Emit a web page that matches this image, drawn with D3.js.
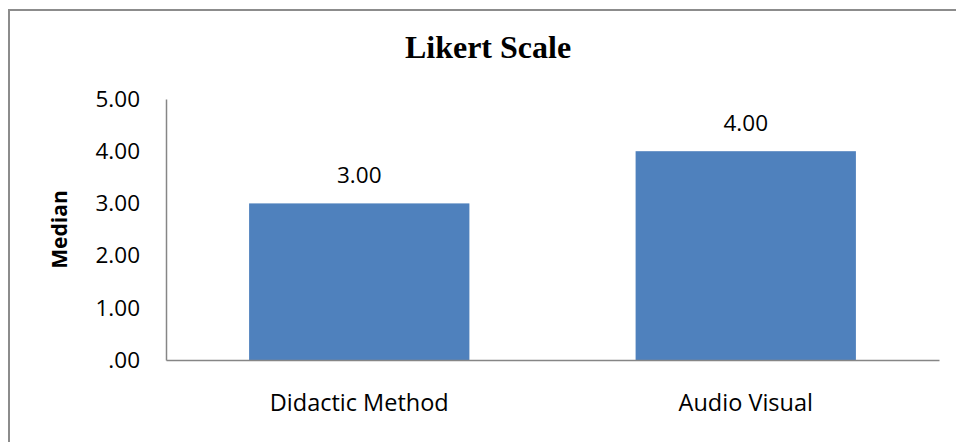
<!DOCTYPE html>
<html>
<head>
<meta charset="utf-8">
<script src="https://cdn.jsdelivr.net/npm/d3@7"></script>
<style>
  html, body { margin: 0; padding: 0; background: #fff; }
  svg { display: block; }
</style>
</head>
<body>
<script>
const categories = ["Didactic Method", "Audio Visual"];
const medians = [3.00, 4.00];
const yTicks = [0, 1, 2, 3, 4, 5];
const tickLabels = [".00", "1.00", "2.00", "3.00", "4.00", "5.00"];
const chartTitle = "Likert Scale";
const yTitle = "Median";

const W = 956, H = 442;
const plot = { left: 166, right: 939, top: 99, bottom: 360 };
const sans = "'Open Sans', 'Noto Sans', sans-serif";

const svg = d3.select("body").append("svg").attr("width", W).attr("height", H);

// outer chart border (only top & left visible in reference)
svg.append("rect")
  .attr("x", 9).attr("y", 10).attr("width", W + 20).attr("height", H + 20)
  .attr("fill", "none").attr("stroke", "#8c8c8c").attr("stroke-width", 2);

const x = d3.scaleBand().domain(categories)
  .range([plot.left, plot.right]).paddingInner(0.43).paddingOuter(0.215);
const y = d3.scaleLinear().domain([0, 5]).range([plot.bottom, plot.top]);

// bars
svg.append("g").selectAll("rect").data(categories).join("rect")
  .attr("x", d => x(d))
  .attr("y", (d, i) => y(medians[i]))
  .attr("width", x.bandwidth())
  .attr("height", (d, i) => y(0) - y(medians[i]))
  .attr("fill", "#4F81BD");

// y axis
const yAxis = d3.axisLeft(y).tickValues(yTicks)
  .tickFormat((d, i) => tickLabels[i]).tickSize(0).tickPadding(26);
const gy = svg.append("g").attr("transform", `translate(${plot.left},0)`).call(yAxis);
gy.select(".domain").attr("stroke", "#868686").attr("stroke-width", 1.5);
gy.selectAll("text").attr("font-family", sans).attr("font-size", 22.5).attr("fill", "#000");

// x axis
const xAxis = d3.axisBottom(x).tickSize(0).tickPadding(34);
const gx = svg.append("g").attr("transform", `translate(0,${plot.bottom})`).call(xAxis);
gx.select(".domain").attr("stroke", "#868686").attr("stroke-width", 1.5);
gx.selectAll("text").attr("font-family", sans).attr("font-size", 23.5).attr("fill", "#000");

// data labels
svg.append("g").selectAll("text").data(categories).join("text")
  .attr("x", d => x(d) + x.bandwidth() / 2)
  .attr("y", (d, i) => y(medians[i]) - 20)
  .attr("text-anchor", "middle")
  .attr("font-family", sans).attr("font-size", 22.5).attr("fill", "#000")
  .text((d, i) => d3.format(".2f")(medians[i]));

// title
svg.append("text")
  .attr("x", 488).attr("y", 58)
  .attr("text-anchor", "middle")
  .attr("font-family", "'Liberation Serif', 'Times New Roman', serif")
  .attr("font-weight", "bold").attr("font-size", 32)
  .text(chartTitle);

// y title
svg.append("text")
  .attr("transform", `translate(67,${(plot.top + plot.bottom) / 2}) rotate(-90)`)
  .attr("text-anchor", "middle")
  .attr("font-family", sans).attr("font-weight", "bold").attr("font-size", 21)
  .text(yTitle);
</script>
</body>
</html>
